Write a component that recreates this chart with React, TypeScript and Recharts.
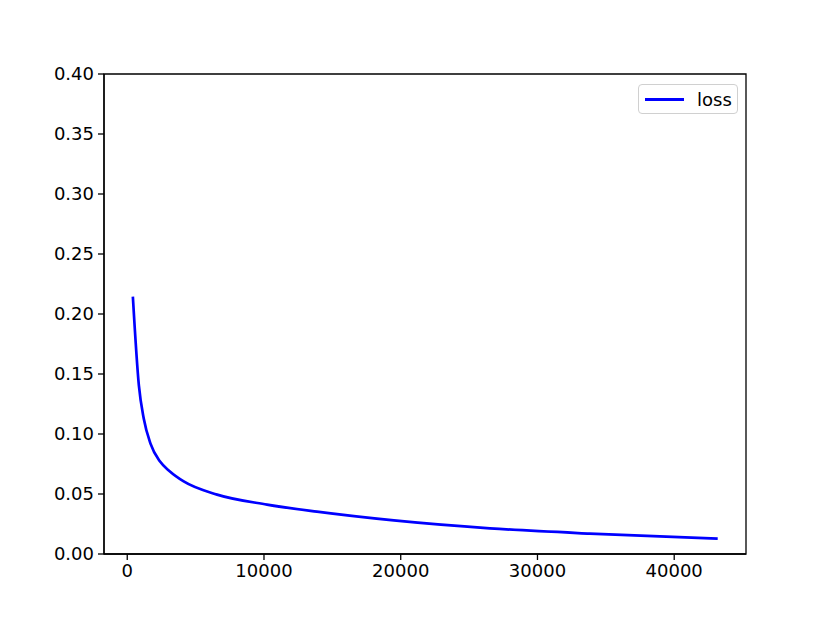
import { LineChart, Line, XAxis, YAxis, ReferenceArea } from 'recharts'

// iteration at which each loss sample was taken
const steps = [410, 850, 1210, 1700, 2400, 3100, 4130, 6570, 10220, 13870, 19500, 26520, 33820, 43180]
const lossValues = [0.2145, 0.1405, 0.1127, 0.092, 0.077, 0.069, 0.0605, 0.0495, 0.0412, 0.0353, 0.028, 0.0214, 0.017, 0.0128]
const xTicks = [0, 10000, 20000, 30000, 40000]
const yTicks = [0, 0.05, 0.1, 0.15, 0.2, 0.25, 0.3, 0.35, 0.4]

const data = steps.map((step, i) => ({ step, loss: lossValues[i] }))

const xDomain: [number, number] = [-1700, 45250]
const yDomain: [number, number] = [0, 0.4]
const font = 'DejaVu Sans, sans-serif'
const tickStyle = { fill: '#000', fontSize: 18, fontFamily: font }

function LossLegend() {
  return (
    <div
      style={{
        position: 'absolute',
        left: 630,
        top: 76,
        width: 100,
        height: 30,
        border: '1px solid #d0d0d0',
        borderRadius: 4,
        background: '#fff',
        display: 'flex',
        alignItems: 'center',
        fontFamily: font,
        fontSize: 18,
        boxSizing: 'border-box',
      }}
    >
      <div style={{ width: 39, height: 3, background: '#0000ff', marginLeft: 6, marginRight: 13 }} />
      <span style={{ color: '#000' }}>loss</span>
    </div>
  )
}

export default function App() {
  return (
    <div style={{ position: 'relative', width: 822, height: 615 }}>
      <LineChart
        width={822}
        height={615}
        data={data}
        margin={{ top: 66, right: 84, bottom: 39, left: 0 }}
      >
        <XAxis
          dataKey="step"
          type="number"
          domain={xDomain}
          ticks={xTicks}
          allowDataOverflow
          height={30}
          tick={tickStyle}
          tickSize={6}
          tickMargin={4}
          stroke="#000"
          strokeWidth={1.3}
        />
        <YAxis
          type="number"
          domain={yDomain}
          ticks={yTicks}
          allowDataOverflow
          width={96}
          tick={tickStyle}
          tickSize={6}
          tickMargin={4}
          tickFormatter={(v: number) => v.toFixed(2)}
          stroke="#000"
          strokeWidth={1.3}
        />
        <ReferenceArea
          x1={xDomain[0]}
          x2={xDomain[1]}
          y1={yDomain[0]}
          y2={yDomain[1]}
          fill="none"
          stroke="#000"
          strokeWidth={1.3}
          strokeOpacity={1}
        />
        <Line
          type="monotone"
          dataKey="loss"
          stroke="#0000ff"
          strokeWidth={2.7}
          dot={false}
          isAnimationActive={false}
        />
      </LineChart>
      <LossLegend />
    </div>
  )
}
